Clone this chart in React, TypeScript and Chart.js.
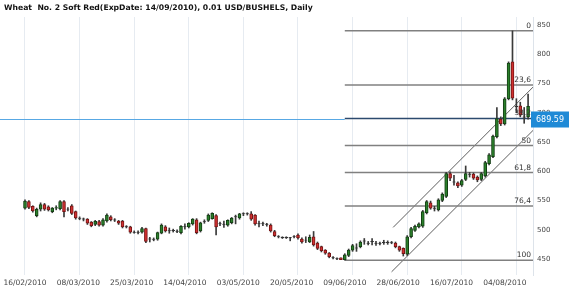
import React, { useEffect, useRef } from "react";
import { Chart, registerables } from "chart.js";
Chart.register(...registerables);

const title = "Wheat  No. 2 Soft Red(ExpDate: 14/09/2010), 0.01 USD/BUSHELS, Daily";

const opens = [
  537, 548, 540, 524, 535, 543, 539, 531, 537, 536,
  548, 535, 541, 531, 520, 518.5, 518, 513, 509, 514,
  508, 515, 522, 517, 515, 515, 505, 505, 496, 496,
  496, 502, 484, 484, 484, 494, 505, 498, 499, 497,
  495, 505, 505, 510, 517, 498, 514, 516, 519, 524,
  510, 509, 508, 512, 522, 520, 527, 527, 527, 525,
  510, 510, 509, 508, 497, 488, 486.5, 486.5, 486, 488,
  491, 484, 482, 479, 488, 477, 471, 465, 460, 452,
  450, 452, 449, 456, 465, 469, 471, 481, 477, 480,
  477, 477, 478, 478, 478, 477, 471, 468, 458, 488,
  499, 505, 506, 529, 546, 537, 534, 550, 557, 596,
  582, 580, 576, 586, 595, 595, 590, 586, 592, 613,
  625, 659, 689, 681, 724, 787, 711, 712, 693, 693,
];
const highs = [
  551, 550, 541, 537, 546, 545, 541, 538, 541, 550,
  550, 538, 543, 532, 522, 520, 519, 514, 516, 516,
  519, 527, 524, 519, 516, 516, 507, 506, 498, 498,
  504, 503, 487, 486, 496, 510, 507, 503, 501, 500,
  507, 510, 512, 519, 519, 513, 517, 527, 529, 526,
  513, 515, 517, 521, 525, 528, 529, 529, 531, 526,
  515, 513, 511, 510, 499, 490, 488, 488, 487, 490,
  493, 486, 488, 491, 497, 479, 472, 466, 461, 454,
  452, 452, 459, 467, 475, 476, 481, 485, 480, 485,
  480, 479, 482, 481, 480, 479, 472, 469, 490, 504,
  508, 512, 533, 550, 549, 540, 553, 563, 598, 599,
  593, 582, 586, 609, 598, 597, 592, 598, 617, 630,
  662, 709, 693, 726, 787, 840, 724, 718, 709, 732,
];
const lows = [
  535, 536, 530, 522, 532, 533, 532, 529, 534, 534,
  522, 532, 526, 518, 517, 515, 509, 505, 507, 506,
  506, 513, 515, 514, 509, 503, 503, 494, 494, 493,
  494, 478, 479, 481, 482, 493, 496, 494, 496, 495,
  493, 501, 503, 508, 493, 496, 511, 514, 518, 491,
  507, 504, 506, 510, 510, 518, 524, 525, 516, 508,
  505, 507, 506, 496, 488, 486, 485, 485, 481, 486,
  484, 477, 478, 478, 472, 466, 462, 458, 452, 450,
  449, 449, 448, 454, 463, 463, 469, 475, 474, 474,
  473, 474, 475, 475, 476, 469, 463, 455, 456, 486,
  497, 503, 504, 527, 535, 532, 532, 548, 555, 584,
  576, 572, 574, 584, 590, 586, 582, 584, 590, 611,
  623, 657, 678, 679, 722, 722, 700, 693, 682, 689,
];
const closes = [
  549, 538, 532, 535, 543, 535, 534, 537, 538, 548,
  531, 535.5, 528, 520, 519.5, 518, 511, 507, 514.5, 508,
  517, 525, 517, 516.5, 511, 505, 505.5, 496, 495.5, 495.5,
  502, 480, 484.5, 483.5, 495, 508, 498, 498.5, 498.5, 497.5,
  506, 505.5, 511, 518, 495, 512, 514.5, 525, 528, 505,
  510.5, 509.5, 516, 520, 522.5, 527, 527.5, 527.5, 518, 510,
  510.5, 510.5, 509.5, 498, 490, 488.5, 487, 487, 486.5, 488.5,
  486, 479, 482.5, 487, 474, 468, 464, 460, 454, 452.5,
  450.5, 449, 457, 465, 473, 468.5, 479, 480.5, 476.5, 479.5,
  476.5, 476.5, 478.5, 478.5, 477.5, 471, 465, 459, 488, 502,
  506, 510, 531, 548, 537, 536.5, 551, 561, 596, 588,
  581.5, 575, 584, 596, 594.5, 588, 585, 596, 615, 628,
  660, 690, 681, 724, 785, 725, 710.5, 696, 692.5, 711,
];

const dateLabels = [
  "16/02/2010", "08/03/2010", "25/03/2010", "14/04/2010", "03/05/2010",
  "20/05/2010", "09/06/2010", "28/06/2010", "16/07/2010", "04/08/2010",
];
const yTickValues = [450, 500, 550, 600, 650, 700, 750, 800, 850];
const fibLevels = [0, 23.6, 38.2, 50, 61.8, 76.4, 100];
const fibLabels = ["0", "23,6", "38,2", "50", "61,8", "76,4", "100"];
const lastPrice = 689.59;
// trend channel (bar index, price)
const channelUpper = [{ x: 94.4, y: 504 }, { x: 130.3, y: 744 }];
const channelLower = [{ x: 94.0, y: 428 }, { x: 130.3, y: 670 }];

const GRID_EVERY = 14;
const LABEL_STEP = 13.67;
const X_MIN = -6.41;
const X_MAX = 130.26;
const Y_MIN = 422.6;
const Y_MAX = 863.7;

export default function App() {
  const ref = useRef<HTMLCanvasElement | null>(null);
  useEffect(() => {
    if (!ref.current) return;
    const fibHigh = Math.max(...highs);
    const fibLow = Math.min(...lows);
    const fibStart = lows.indexOf(fibLow);
    const fibValue = (lv: number) => fibHigh - (lv / 100) * (fibHigh - fibLow);

    const bodyFill = opens.map((o, i) =>
      Math.abs(closes[i] - o) <= 0.5 ? "#333333" : closes[i] > o ? "#2a7f2a" : "#d03030"
    );
    const bodyBorder = opens.map((o, i) =>
      Math.abs(closes[i] - o) <= 0.5 ? "#333333" : closes[i] > o ? "#143f14" : "#751515"
    );

    const fibDatasets = fibLevels.map((lv) => ({
      type: "line" as const,
      label: "fib" + lv,
      data: [
        { x: fibStart, y: fibValue(lv) },
        { x: X_MAX, y: fibValue(lv) },
      ],
      borderColor: lv === 38.2 ? "#2c4a6e" : "#808080",
      borderWidth: 1.5,
      pointRadius: 0,
      order: 4,
    }));

    const overlay = {
      id: "overlay",
      afterDatasetsDraw(chart: any) {
        const { ctx, chartArea: a, scales } = chart;
        const yy = Math.round(scales.y.getPixelForValue(lastPrice));
        const xFib = scales.x.getPixelForValue(fibStart);
        ctx.save();
        ctx.fillStyle = "#58a8e4";
        ctx.fillRect(a.left, yy, xFib - a.left, 1);
        ctx.restore();
      },
      afterDraw(chart: any) {
        const { ctx, chartArea: a, scales } = chart;
        ctx.save();
        ctx.fillStyle = "#111";
        ctx.font = "bold 7.7px 'DejaVu Sans'";
        ctx.textAlign = "left";
        ctx.textBaseline = "alphabetic";
        ctx.fillText(title, 4, 9.5);
        ctx.font = "7.5px 'DejaVu Sans'";
        ctx.fillStyle = "#444";
        ctx.textAlign = "center";
        ctx.textBaseline = "middle";
        dateLabels.forEach((t, k) => {
          ctx.fillText(t, scales.x.getPixelForValue(k * LABEL_STEP), 283.5);
        });
        ctx.font = "7.5px 'DejaVu Sans'";
        ctx.fillStyle = "#333";
        ctx.textAlign = "right";
        ctx.textBaseline = "alphabetic";
        fibLevels.forEach((lv, k) => {
          ctx.fillText(fibLabels[k], a.right - 2, scales.y.getPixelForValue(fibValue(lv)) - 3);
        });
        const yy = Math.round(scales.y.getPixelForValue(lastPrice)) + 0.5;
        ctx.fillStyle = "#1f8ad6";
        ctx.fillRect(a.right - 2, yy - 8, 38, 16);
        ctx.fillStyle = "#ffffff";
        ctx.font = "8px 'DejaVu Sans'";
        ctx.textAlign = "center";
        ctx.textBaseline = "middle";
        ctx.fillText(lastPrice.toFixed(2), a.right + 17, yy);
        ctx.restore();
      },
    };

    const chart = new Chart(ref.current, {
      type: "bar",
      data: {
        datasets: [
          {
            type: "line",
            label: "channelUpper",
            data: channelUpper,
            borderColor: "#5e5e5e",
            borderWidth: 1,
            pointRadius: 0,
            order: 5,
          },
          {
            type: "line",
            label: "channelLower",
            data: channelLower,
            borderColor: "#5e5e5e",
            borderWidth: 1,
            pointRadius: 0,
            order: 5,
          },
          ...fibDatasets,
          {
            type: "bar",
            label: "wick",
            data: highs.map((h, i) => ({ x: i, y: [lows[i], h] })),
            backgroundColor: "#3a3a3a",
            barThickness: 1,
            grouped: false,
            order: 2,
          },
          {
            type: "bar",
            label: "body",
            data: opens.map((o, i) => ({ x: i, y: [o, closes[i]] })),
            backgroundColor: bodyFill,
            borderColor: bodyBorder,
            borderWidth: 1,
            borderSkipped: false,
            barThickness: 3,
            grouped: false,
            order: 1,
          },
        ] as any,
      },
      options: {
        responsive: false,
        animation: false,
        layout: { padding: { top: 17, left: 0, right: 0, bottom: 0 } },
        plugins: {
          legend: { display: false },
          tooltip: { enabled: false },
          title: { display: false },
        },
        scales: {
          x: {
            type: "linear",
            offset: false,
            min: X_MIN,
            max: X_MAX,
            grid: { color: "#e6ebf1", drawTicks: false, offset: false },
            border: { display: false },
            ticks: { display: false },
            afterBuildTicks: (s: any) => {
              const t = [];
              for (let v = 0; v <= X_MAX; v += GRID_EVERY) t.push({ value: v });
              s.ticks = t;
            },
            afterFit: (s: any) => {
              s.height = 17;
            },
          },
          y: {
            type: "linear",
            position: "right",
            min: Y_MIN,
            max: Y_MAX,
            grid: { display: false, drawTicks: false },
            border: { display: true, color: "#dde3ea" },
            ticks: {
              padding: 4,
              color: "#444",
              font: { family: "DejaVu Sans", size: 7 },
            },
            afterBuildTicks: (s: any) => {
              s.ticks = yTickValues.map((v) => ({ value: v }));
            },
            afterFit: (s: any) => {
              s.width = 37;
            },
          },
        },
      } as any,
      plugins: [overlay],
    });
    return () => chart.destroy();
  }, []);

  return (
    <div style={{ position: "fixed", left: 0, top: 0, width: 570, height: 292, background: "#fff" }}>
      <canvas ref={ref} width={570} height={292} />
    </div>
  );
}
